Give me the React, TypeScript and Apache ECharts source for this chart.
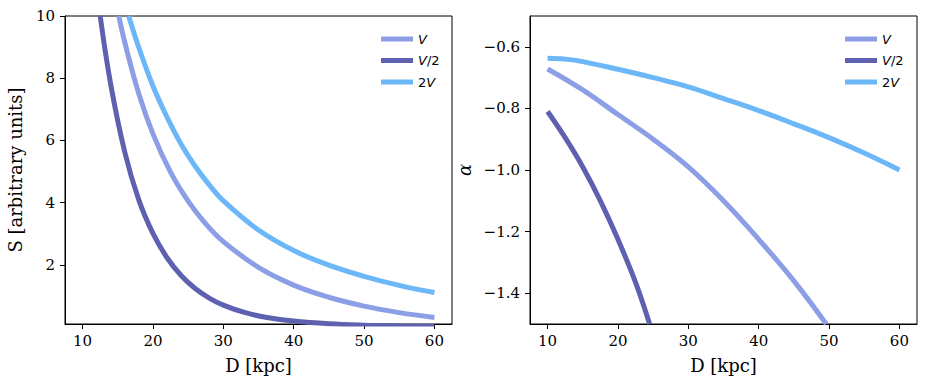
import React, { useEffect, useRef } from "react";
import * as echarts from "echarts";

// ---- Left panel: S [arbitrary units] vs D [kpc] ----
const sD_half = [12.5, 14, 16, 18, 20, 22, 24, 26, 28, 30, 33, 36, 40, 45, 50, 55, 60];
const sS_half = [10, 7.8, 5.62, 4.08, 3.01, 2.23, 1.66, 1.24, 0.934, 0.706, 0.471, 0.319, 0.194, 0.106, 0.06, 0.035, 0.02];

const sD_V = [15.15, 16, 18, 20, 22.5, 25, 27.5, 30, 35, 40, 45, 50, 55, 60];
const sS_V = [10, 9.15, 7.49, 6.21, 4.98, 4.05, 3.32, 2.75, 1.92, 1.35, 0.96, 0.675, 0.466, 0.31];

const sD_2V = [16.55, 18, 20, 22, 24, 26, 28, 30, 35, 40, 45, 50, 55, 60];
const sS_2V = [10, 8.98, 7.75, 6.75, 5.88, 5.17, 4.57, 4.06, 3.12, 2.46, 1.99, 1.63, 1.34, 1.11];

// ---- Right panel: alpha vs D [kpc] ----
const aD_V = [10, 15, 20, 25, 30, 35, 40, 45, 49.6];
const aA_V = [-0.672, -0.74, -0.82, -0.9, -0.99, -1.1, -1.225, -1.36, -1.5];

const aD_half = [10, 12.5, 15, 17.5, 20, 22.5, 24.5];
const aA_half = [-0.81, -0.895, -0.99, -1.1, -1.225, -1.365, -1.5];

const aD_2V = [10, 12.5, 15, 20, 25, 30, 35, 40, 45, 50, 55, 60];
const aA_2V = [-0.637, -0.64, -0.648, -0.673, -0.7, -0.73, -0.768, -0.807, -0.85, -0.895, -0.945, -1.0];

// ---- Ticks ----
const xTicks = [10, 20, 30, 40, 50, 60];
const sTicks = [2, 4, 6, 8, 10];
const aTicks = [-1.4, -1.2, -1.0, -0.8, -0.6];

const seriesNames = ["V", "V/2", "2V"];
const colors: Record<string, string> = { V: "#8c9fe6", "V/2": "#5e60b0", "2V": "#6bb7f8" };

const pairs = (xs: number[], ys: number[]) => xs.map((x, i) => [x, ys[i]]);

const SERIF = "'DejaVu Serif', serif";
const SANS = "'DejaVu Sans', sans-serif";

function makeX(gridIndex: number) {
  return {
    type: "value",
    gridIndex,
    min: 7.5,
    max: 62.5,
    name: "D [kpc]",
    nameLocation: "middle",
    nameGap: 32,
    nameTextStyle: { fontFamily: SERIF, fontSize: 18, color: "#000" },
    axisLine: { show: true, lineStyle: { color: "#000", width: 1 } },
    axisTick: { show: true, inside: false, length: 5, lineStyle: { color: "#000" }, customValues: xTicks },
    axisLabel: { show: true, margin: 9, fontFamily: SERIF, fontSize: 15, color: "#000", customValues: xTicks },
    splitLine: { show: false },
  };
}

export default function App() {
  const ref = useRef<HTMLDivElement>(null);
  useEffect(() => {
    if (!ref.current) return;
    const chart = echarts.init(ref.current, undefined, { renderer: "svg" });
    const lineSeries = (name: string, xi: number, data: number[][]) => ({
      type: "line",
      name,
      xAxisIndex: xi,
      yAxisIndex: xi,
      data,
      showSymbol: false,
      symbol: "none",
      smooth: 0.4,
      clip: true,
      color: colors[name],
      lineStyle: { color: colors[name], width: 5, cap: "butt" },
    });
    const legendFmt = (name: string) => {
      if (name === "V") return "{i|V}";
      if (name === "V/2") return "{i|V}{n|/2}";
      return "{n|2}{i|V}";
    };
    const legendBase = (left: number) => ({
      orient: "vertical",
      left,
      top: 27,
      data: seriesNames,
      icon: "rect",
      itemWidth: 32,
      itemHeight: 5,
      itemGap: 7.5,
      itemTextGap: 8,
      selectedMode: false,
      formatter: legendFmt,
      textStyle: {
        color: "#000",
        lineHeight: 14,
        rich: {
          i: { fontFamily: SANS, fontStyle: "italic", fontSize: 13, color: "#000", lineHeight: 14 },
          n: { fontFamily: SANS, fontSize: 13, color: "#000", lineHeight: 14 },
        },
      },
    });
    chart.setOption({
      animation: false,
      backgroundColor: "#fff",
      grid: [
        { left: 65, top: 16, width: 387, height: 308, show: true, borderColor: "#000", borderWidth: 1, backgroundColor: "transparent" },
        { left: 530, top: 16, width: 387, height: 308, show: true, borderColor: "#000", borderWidth: 1, backgroundColor: "transparent" },
      ],
      legend: [legendBase(376), legendBase(840)],
      xAxis: [makeX(0), makeX(1)],
      yAxis: [
        {
          type: "value",
          gridIndex: 0,
          min: 0.1,
          max: 10,
          name: "S [arbitrary units]",
          nameLocation: "middle",
          nameGap: 41,
          nameTextStyle: { fontFamily: SERIF, fontSize: 18, color: "#000" },
          axisLine: { show: true, lineStyle: { color: "#000", width: 1 } },
          axisTick: { show: true, inside: false, length: 5, lineStyle: { color: "#000" }, customValues: sTicks },
          axisLabel: { show: true, margin: 10, fontFamily: SERIF, fontSize: 15, color: "#000", customValues: sTicks },
          splitLine: { show: false },
        },
        {
          type: "value",
          gridIndex: 1,
          min: -1.5,
          max: -0.5,
          name: "α",
          nameLocation: "middle",
          nameGap: 57,
          nameTextStyle: { fontFamily: SERIF, fontStyle: "italic", fontSize: 18, color: "#000" },
          axisLine: { show: true, lineStyle: { color: "#000", width: 1 } },
          axisTick: { show: true, inside: false, length: 5, lineStyle: { color: "#000" }, customValues: aTicks },
          axisLabel: {
            show: true,
            margin: 10,
            fontFamily: SERIF,
            fontSize: 15,
            color: "#000",
            customValues: aTicks,
            formatter: (v: number) => v.toFixed(1).replace("-", "\u2212"),
          },
          splitLine: { show: false },
        },
      ],
      series: [
        lineSeries("V", 0, pairs(sD_V, sS_V)),
        lineSeries("V/2", 0, pairs(sD_half, sS_half)),
        lineSeries("2V", 0, pairs(sD_2V, sS_2V)),
        lineSeries("V", 1, pairs(aD_V, aA_V)),
        lineSeries("V/2", 1, pairs(aD_half, aA_half)),
        lineSeries("2V", 1, pairs(aD_2V, aA_2V)),
      ],
    });
    return () => chart.dispose();
  }, []);
  return (
    <div
      ref={ref}
      style={{ position: "fixed", left: 0, top: 0, width: 927, height: 384, background: "#fff" }}
    />
  );
}
